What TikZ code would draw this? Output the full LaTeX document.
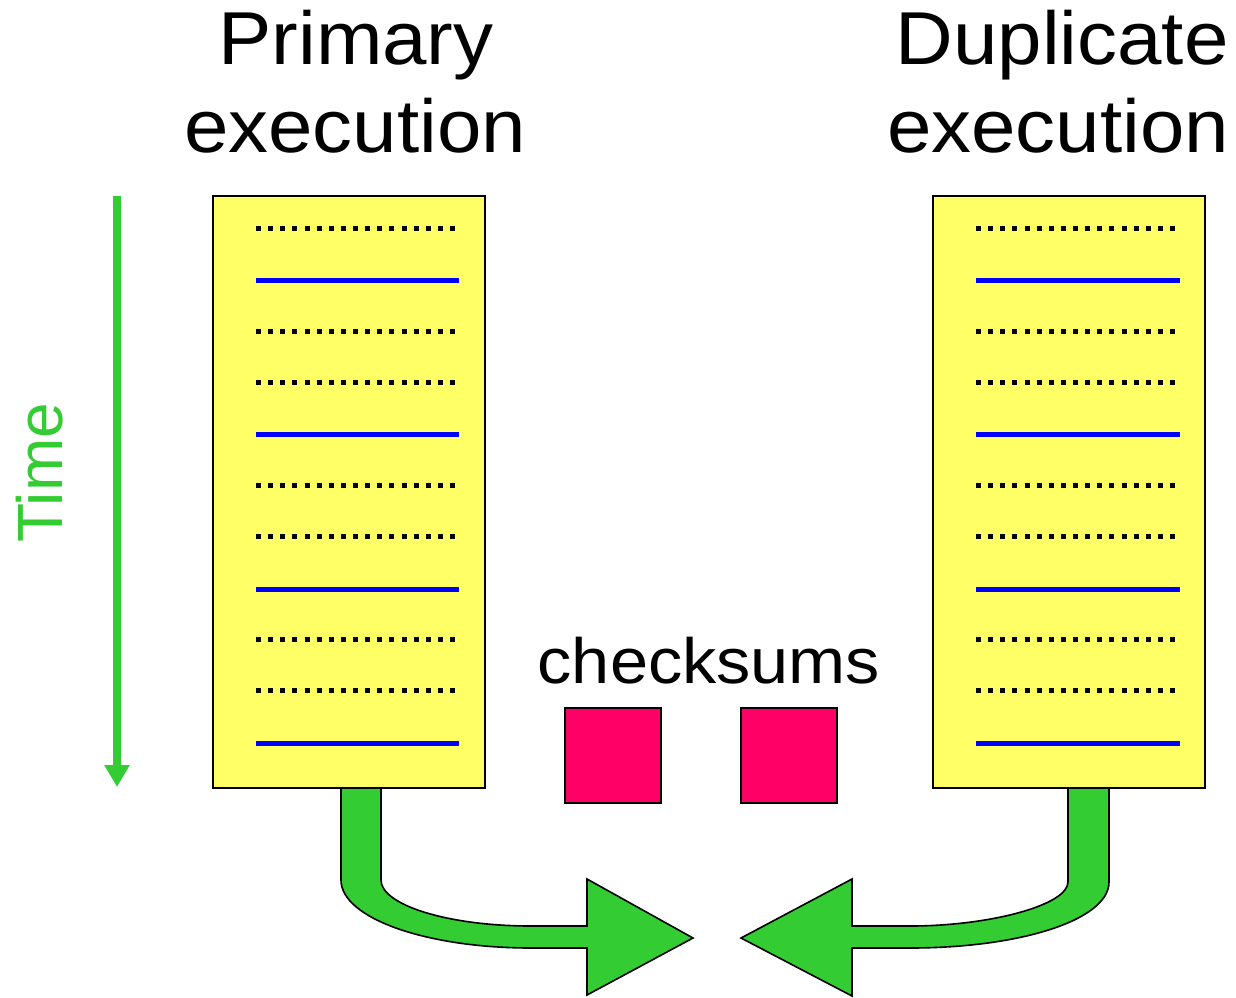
\documentclass[tikz,border=0pt]{standalone}
\usepackage{fontspec}
\setmainfont{Liberation Sans}
\usetikzlibrary{arrows.meta}
\definecolor{boxyellow}{HTML}{FFFF66}
\definecolor{linkblue}{HTML}{0000FF}
\definecolor{sumpink}{HTML}{FF0066}
\definecolor{flowgreen}{HTML}{33CC33}
\begin{document}
\begin{tikzpicture}[x=1pt,y=-1pt,
  execbox/.style={draw=black,line width=2pt,fill=boxyellow,inner sep=0pt,
    minimum width=272pt,minimum height=592pt},
  sumbox/.style={draw=black,line width=2pt,fill=sumpink,inner sep=0pt,
    minimum width=96pt,minimum height=95pt},
  plainstep/.style={line width=5pt,black,dash pattern=on 5pt off 7.125pt,line cap=butt},
  syncstep/.style={line width=5pt,linkblue,line cap=butt},
  bigarrow/.style={draw=black,line width=1.6pt,fill=flowgreen,line join=miter},
  title/.style={font=\fontsize{75}{88}\selectfont,align=center,xscale=1.065,inner sep=0pt}]
\useasboundingbox (0,0) rectangle (1236,997);

% bent arrows leaving the bottom of each execution
\path[bigarrow] (341,788) -- (341,880)
  .. controls (341,918) and (426,948) .. (531,948) -- (587,948) -- (587,995)
  -- (693,938) -- (587,879) -- (587,926) -- (531,926)
  .. controls (448,926) and (381,905) .. (381,880) -- (381,788) -- cycle;
\path[bigarrow] (1109,788) -- (1109,882)
  .. controls (1109,920) and (1020,948) .. (910,948) -- (852,948) -- (852,996)
  -- (741,938) -- (852,879) -- (852,926) -- (910,926)
  .. controls (990,926) and (1068,905) .. (1068,882) -- (1068,788) -- cycle;

% the two executions
\node[execbox] (prim) at (349,492) {};
\node[execbox] (dup) at (1069,492) {};

% instruction lines: d = dotted, s = solid blue
\foreach \y/\k in {228/d,280/s,331/d,382/d,434/s,485/d,536/d,589/s,639/d,690/d,743/s}{
  \if d\k
    \draw[plainstep] (256,\y) -- (455.2,\y);
    \draw[plainstep] (976,\y) -- (1175.2,\y);
  \else
    \draw[syncstep] (256,\y) -- (459,\y);
    \draw[syncstep] (976,\y) -- (1180,\y);
  \fi
}

% titles
\node[title,anchor=base] (primtitle) at (356,64) {Primary};
\node[title,anchor=base] (primtitle2) at (355,152) {execution};
\node[title,anchor=base] (duptitle) at (1062,64) {Duplicate};
\node[title,anchor=base] (duptitle2) at (1058,152) {execution};

% time axis
\coordinate (tstart) at (117,196);
\coordinate (tend) at (117,787);
\draw[flowgreen,line width=8pt,-{Triangle[width=24pt,length=22pt]}] (tstart) -- (tend);
\node[flowgreen,rotate=90,anchor=base,inner sep=0pt,
  font=\fontsize{64}{70}\selectfont] (timelabel) at (62,473) {Time};

% checksums
\node[anchor=base,inner sep=0pt,xscale=1.07,font=\fontsize{64}{70}\selectfont]
  (sumlabel) at (709,683) {checksums};
\node[sumbox] (sumA) at (613,755.5) {};
\node[sumbox] (sumB) at (789,755.5) {};
\end{tikzpicture}
\end{document}
